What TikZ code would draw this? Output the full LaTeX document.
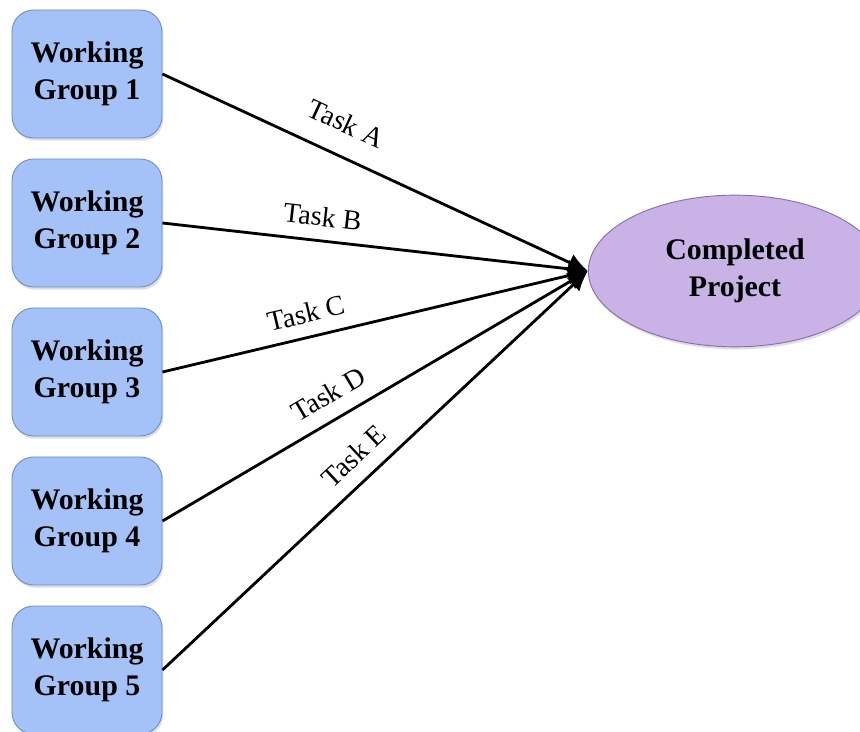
\documentclass[tikz,border=0pt]{standalone}
\usepackage{fontspec}
\setmainfont{Liberation Serif}
\usetikzlibrary{arrows.meta,shapes.geometric,shadows}
\definecolor{groupfill}{HTML}{A4C2F7}
\definecolor{groupline}{HTML}{6E90C6}
\definecolor{projfill}{HTML}{C8B2E6}
\definecolor{projline}{HTML}{8C6CB4}
\tikzset{
  groupbox/.style={rounded corners=0.65cm,draw=groupline,fill=groupfill,line width=0.8pt,
                   minimum width=4.5cm,minimum height=3.84cm,align=center,
                   font=\fontsize{25.5}{31.5}\selectfont\bfseries,
                   drop shadow={opacity=0.25,shadow xshift=0.04cm,shadow yshift=-0.08cm}},
  projnode/.style={ellipse,draw=projline,fill=projfill,line width=0.8pt,
                   minimum width=8.8cm,minimum height=4.55cm,align=center,
                   font=\fontsize{25.5}{31.5}\selectfont\bfseries,
                   drop shadow={opacity=0.25,shadow xshift=0.04cm,shadow yshift=-0.08cm}},
  taskflow/.style={-{Latex[length=0.6cm,width=0.55cm]},line width=2.4pt,draw=black},
  tasklabel/.style={sloped,above,inner sep=6pt,font=\fontsize{24}{28}\selectfont}
}
\begin{document}
\begin{tikzpicture}[x=0.03cm,y=-0.03cm]
  \useasboundingbox (0,0) rectangle (860,732);
  \node[groupbox] (g1) at (87,74) {Working\\Group 1};
  \node[groupbox] (g2) at (87,223) {Working\\Group 2};
  \node[groupbox] (g3) at (87,372) {Working\\Group 3};
  \node[groupbox] (g4) at (87,521) {Working\\Group 4};
  \node[groupbox] (g5) at (87,670) {Working\\Group 5};
  \node[projnode] (proj) at (735,271) {Completed\\Project};
  % tasks into the project
  \draw[taskflow] (g1.east) -- node[tasklabel,pos=0.40,inner sep=18pt] {Task A} (proj.west);
  \draw[taskflow] (g2.east) -- node[tasklabel,pos=0.37,inner sep=11pt] {Task B} (proj.west);
  \draw[taskflow] (g3.east) -- node[tasklabel,pos=0.35,inner sep=11pt] {Task C} (proj.west);
  \draw[taskflow] (g4.east) -- node[tasklabel,pos=0.42,inner sep=12pt] {Task D} (proj.west);
  \draw[taskflow] (g5.east) -- node[tasklabel,pos=0.49,inner sep=12pt] {Task E} (proj.west);
\end{tikzpicture}
\end{document}
